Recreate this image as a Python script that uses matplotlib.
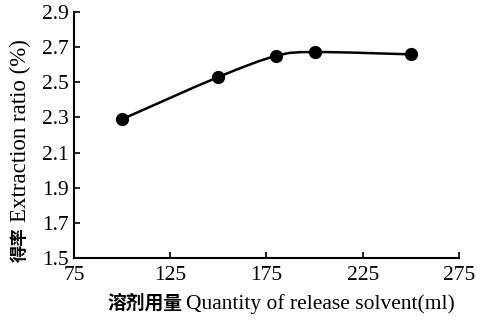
import numpy as np
import matplotlib.pyplot as plt
from matplotlib.path import Path
from matplotlib.patches import PathPatch

# solvent quantity (ml) vs extraction ratio (%)
quantity = [100, 150, 180, 200, 250]
ratio = [2.29, 2.53, 2.65, 2.672, 2.659]

x_ticks = [75, 125, 175, 225, 275]
y_ticks = [1.5, 1.7, 1.9, 2.1, 2.3, 2.5, 2.7, 2.9]

plt.rcParams['font.family'] = ['Liberation Serif', 'Noto Sans CJK SC']


def smooth_path(xs, ys, tension=0.5):
    # Catmull-Rom style cubic bezier through the given points
    pts = np.column_stack([xs, ys]).astype(float)
    verts = [pts[0]]
    codes = [Path.MOVETO]
    n = len(pts)
    for i in range(n - 1):
        p0 = pts[max(i - 1, 0)]
        p1 = pts[i]
        p2 = pts[i + 1]
        p3 = pts[min(i + 2, n - 1)]
        c1 = p1 + (p2 - p0) * tension / 3
        c2 = p2 - (p3 - p1) * tension / 3
        verts += [c1, c2, p2]
        codes += [Path.CURVE4] * 3
    return Path(verts, codes)


fig = plt.figure(figsize=(4.89, 3.27), dpi=100)
ax = fig.add_axes([74 / 489, 1 - 258 / 327, 385 / 489, 246 / 327])

ax.add_patch(PathPatch(smooth_path(quantity, ratio), fill=False,
                       lw=1.8, color='black'))
ax.plot(quantity, ratio, 'o', color='black', ms=8.5)

ax.set_xlim(75, 275)
ax.set_ylim(1.5, 2.9)
ax.set_xticks(x_ticks)
ax.set_yticks(y_ticks)
ax.set_yticklabels([f"{v:.1f}" for v in y_ticks])

for side in ['top', 'right']:
    ax.spines[side].set_visible(False)
for side in ['left', 'bottom']:
    ax.spines[side].set_linewidth(1.5)

ax.tick_params(direction='in', length=4, width=1.2, labelsize=15.5, pad=4)
ax.tick_params(axis='x', pad=6)

# axis titles: bold Chinese part followed by regular English part
cx = fig.text(107 / 489, 1 - 303 / 327, "溶剂用量", ha='left', va='center',
              fontsize=13.5, fontweight='bold', family='Noto Sans CJK SC')
ax.annotate("Quantity of release solvent(ml)", xy=(1, 0.45), xycoords=cx,
            xytext=(3, 0), textcoords='offset points', ha='left',
            va='center', fontsize=15.5)

cy = fig.text(20 / 489, 1 - 262 / 327, "得率", rotation=90, ha='center',
              va='bottom', fontsize=12.5, fontweight='bold',
              family='Noto Sans CJK SC')
ax.annotate("Extraction ratio (%)", xy=(0.55, 1), xycoords=cy,
            xytext=(0, 4), textcoords='offset points', rotation=90,
            ha='center', va='bottom', fontsize=16.5)

plt.savefig("out.png", dpi=100)
plt.close()
